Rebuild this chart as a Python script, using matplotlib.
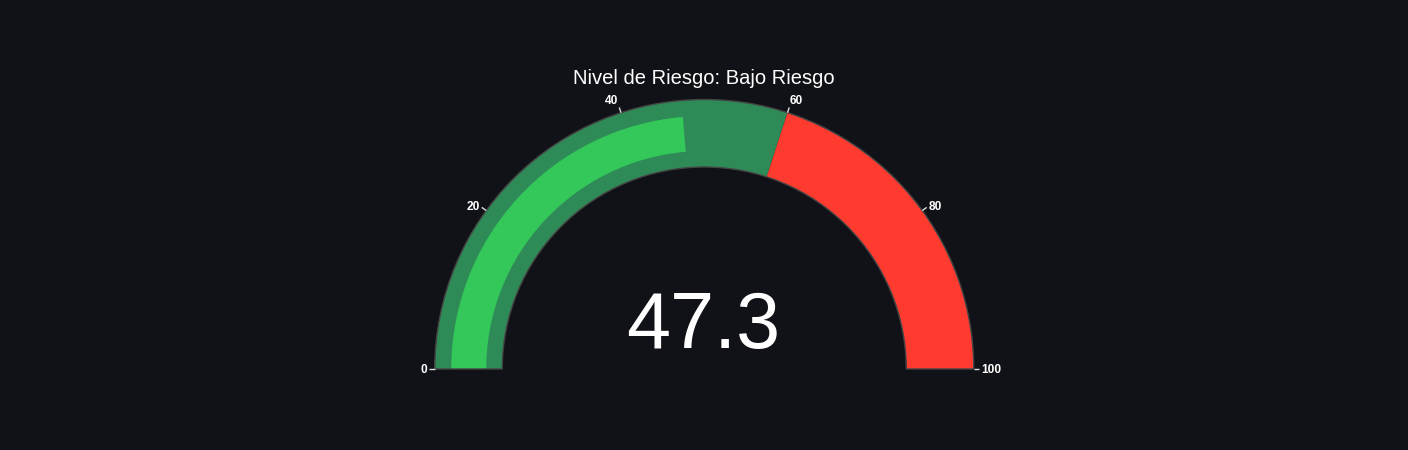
import matplotlib
matplotlib.use("Agg")
import matplotlib.pyplot as plt
from matplotlib.patches import Wedge
import numpy as np

# ---- data ----
title = "Nivel de Riesgo: Bajo Riesgo"
value = 47.3
range_min, range_max = 0, 100
step_ranges = [(0, 60), (60, 100)]
step_colors = ["#2E8B57", "#FF3B30"]
bar_color = "#34C759"
tick_values = [0, 20, 40, 60, 80, 100]

BG = "#111217"
W, H = 1408, 450
fig = plt.figure(figsize=(W / 100, H / 100), dpi=100, facecolor=BG)
ax = fig.add_axes([0, 0, 1, 1])
ax.set_xlim(0, W)
ax.set_ylim(0, H)
ax.set_facecolor(BG)
ax.axis("off")

cx, cy = 704.25, 450 - 369
r_out, r_in = 269.5, 202
bar_out, bar_in = 253, 218


def ang(v):
    return 180 - 180 * (v - range_min) / (range_max - range_min)


# steps
for (a, b), c in zip(step_ranges, step_colors):
    ax.add_patch(Wedge((cx, cy), r_out, ang(b), ang(a), width=r_out - r_in,
                       facecolor=c, edgecolor="none", zorder=1))
# bar
ax.add_patch(Wedge((cx, cy), bar_out, ang(value), ang(range_min), width=bar_out - bar_in,
                   facecolor=bar_color, edgecolor="none", zorder=2))
# border
ax.add_patch(Wedge((cx, cy), r_out, ang(range_max), ang(range_min), width=r_out - r_in,
                   facecolor="none", edgecolor="#444444", lw=1.0, zorder=3))

# ticks
for t in tick_values:
    th = np.deg2rad(ang(t))
    c, s = np.cos(th), np.sin(th)
    ax.plot([cx + r_out * c, cx + (r_out + 5.5) * c], [cy + r_out * s, cy + (r_out + 5.5) * s],
            color="#dddddd", lw=1, zorder=4, solid_capstyle="butt")
    rl = 277
    ha = "right" if c < -0.01 else ("left" if c > 0.01 else "center")
    va = "bottom" if s > 0.7 else "center"
    ax.text(cx + rl * c, cy + rl * s - 1, str(t), ha=ha, va=va, color="white",
            fontsize=8.6, fontweight="bold", family=["Liberation Sans", "DejaVu Sans"], zorder=5)

# title
ax.text(704, 450 - 78, title, ha="center", va="center", color="white",
        fontsize=14.5, family=["Liberation Sans", "DejaVu Sans"])
# number
ax.text(703, 450 - 348, f"{value:.1f}", ha="center", va="baseline", color="white",
        fontsize=57, family=["Liberation Sans", "DejaVu Sans"])

fig.savefig("out.png", dpi=100, facecolor=BG)
